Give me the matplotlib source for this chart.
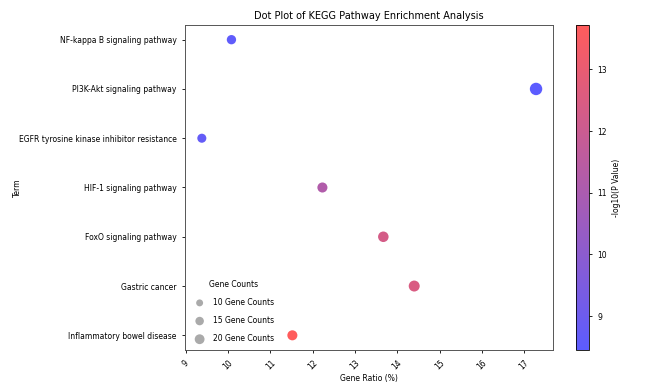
import numpy as np
import matplotlib
matplotlib.use("Agg")
import matplotlib.pyplot as plt
from matplotlib.colors import LinearSegmentedColormap, Normalize

# KEGG enrichment results
terms = ["NF-kappa B signaling pathway", "PI3K-Akt signaling pathway",
         "EGFR tyrosine kinase inhibitor resistance", "HIF-1 signaling pathway",
         "FoxO signaling pathway", "Gastric cancer", "Inflammatory bowel disease"]
gene_ratio = [10.08, 17.28, 9.38, 12.23, 13.67, 14.40, 11.52]
neg_log_p = [8.6, 8.45, 8.7, 11.2, 12.3, 12.5, 13.72]
gene_counts = [18, 32, 17, 21, 23, 25, 21]
legend_counts = [10, 15, 20]

SIZE_K = 2.5
cmap = LinearSegmentedColormap.from_list("br", ["#5c5cff", "#ff5c5c"])
norm = Normalize(vmin=min(neg_log_p), vmax=max(neg_log_p))

fig = plt.figure(figsize=(6.45, 3.89), dpi=100)
ax = fig.add_axes([0.287, 0.100, 0.570, 0.836])
cax = fig.add_axes([0.893, 0.100, 0.020, 0.836])

y = np.arange(len(terms))
sc = ax.scatter(gene_ratio, y, s=[c * SIZE_K for c in gene_counts],
                c=neg_log_p, cmap=cmap, norm=norm, edgecolors="none")
ax.set_yticks(y)
ax.set_yticklabels(terms, fontsize=5.5)
ax.invert_yaxis()
ax.set_xticks(range(9, 18))
ax.tick_params(axis="x", labelsize=5.5, labelrotation=45, length=2.5, width=0.6)
ax.tick_params(axis="y", length=2.5, width=0.6)
ax.set_xlabel("Gene Ratio (%)", fontsize=5.5, labelpad=2)
ax.set_ylabel("Term", fontsize=5.5)
ax.yaxis.set_label_coords(-0.445, 0.5)
ax.set_title("Dot Plot of KEGG Pathway Enrichment Analysis", fontsize=7, pad=4)
for sp in ax.spines.values():
    sp.set_linewidth(0.7)
    sp.set_color("#555555")

cb = fig.colorbar(sc, cax=cax)
cb.set_label("-log10(P Value)", fontsize=5.5)
cb.ax.tick_params(labelsize=5.5, length=2.5, width=0.6)
cb.outline.set_linewidth(0.6)

# size legend
handles = [ax.scatter([], [], s=c * SIZE_K, color="#aaaaaa", edgecolors="none")
           for c in legend_counts]
ax.legend(handles, [f"{c} Gene Counts" for c in legend_counts], title="Gene Counts",
          loc="lower left", frameon=False, fontsize=5.5, title_fontsize=5.5,
          labelspacing=1.2, borderaxespad=0.5)

fig.savefig("out.png", dpi=100, facecolor="white")
